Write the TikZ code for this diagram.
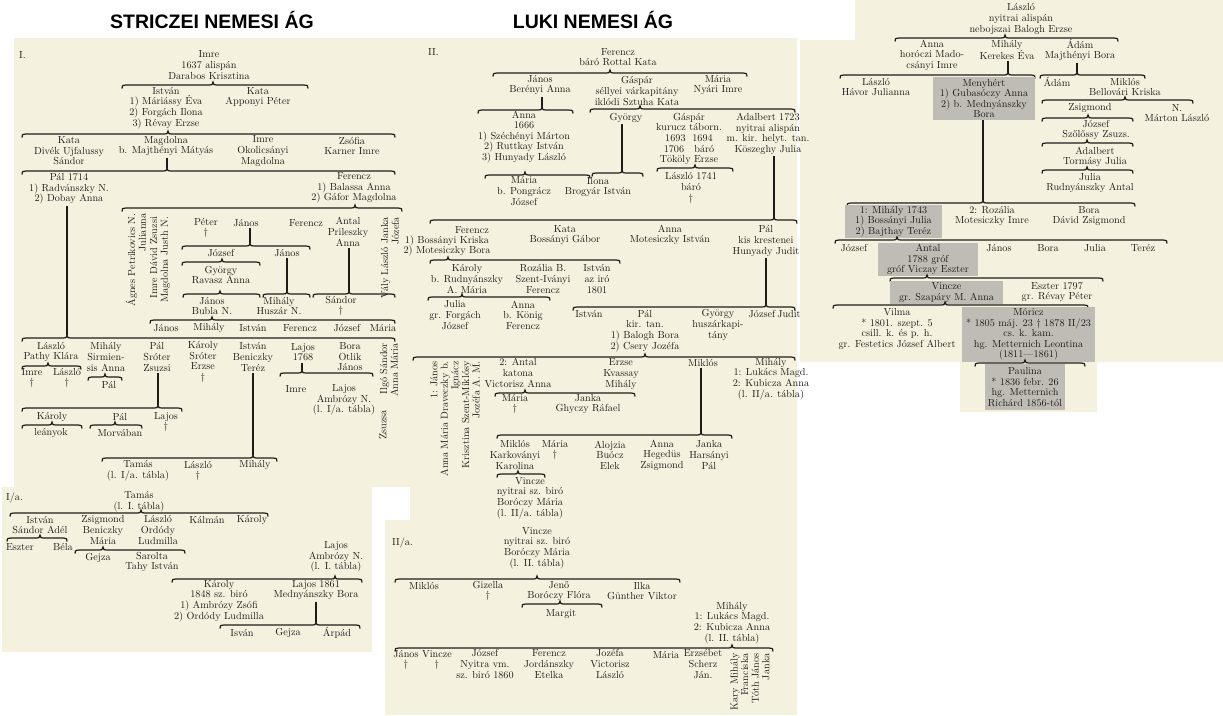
\documentclass[tikz,border=0pt]{standalone}
\usepackage{fontspec}
\newfontfamily\cimfont{Liberation Sans}
\usetikzlibrary{positioning}

\definecolor{papir}{RGB}{244,241,222}
\definecolor{szurke}{RGB}{190,188,180}
\definecolor{tinta}{RGB}{30,28,26}

\newcommand{\nevfont}{\fontsize{10.2}{10.6}\selectfont}
% x1, cusp x, x2, y, name of the cusp
\newcommand{\agvonal}[5]{%
  \draw[vonal] ({#1},{#4+3.5}) .. controls ({#1},{#4+0.5}) .. ({#1+4},{#4}) -- ({#2-3.5},{#4})
    .. controls ({#2-0.8},{#4}) .. ({#2},{#4-3}) .. controls ({#2+0.8},{#4}) .. ({#2+3.5},{#4})
    -- ({#3-4},{#4}) .. controls ({#3},{#4+0.5}) .. ({#3},{#4+3.5});
  \coordinate (#5) at ({#2},{#4-3});}

\tikzset{
  nev/.style={inner sep=0pt, align=center, font=\nevfont, text=tinta},
  fuggo/.style={nev, rotate=90, align=right},
  tabla/.style={nev, anchor=west},
  kiemelt/.style={nev, fill=szurke},
  vonal/.style={draw=tinta, line width=1.2pt},
  tonk/.style={vonal, shorten <=1.5pt},
  cim/.style={inner sep=0pt, font=\cimfont\bfseries\fontsize{19.5}{19.5}\selectfont},
}

\begin{document}
\begin{tikzpicture}[x=1pt,y=-1pt]
	\useasboundingbox (0,0) rectangle (1223,715);
	% paper
	\fill [papir] (14,38) rectangle (410,487);
	\fill [papir] (2,487) rectangle (372,652);
	\fill [papir] (410,38) rectangle (797,520);
	\fill [papir] (385,520) rectangle (797,715);
	\fill [papir] (800,40) -- (855,40) -- (855,0) -- (1223,0) -- (1223,362) -- (1097,362)
		-- (1097,412) -- (960,412) -- (960,362) -- (800,362) -- cycle;

	\node [cim] (cim1) at (212,20) {STRICZEI NEMESI ÁG};
	\node [cim] (cim2) at (593,20) {LUKI NEMESI ÁG};

	% ---- I. tabla
	\node [tabla] (t1) at (19,55) {I.};
	\node [nev] (imre1637) at (209,65) {Imre\\1637 alispán\\Darabos Krisztina};
	\agvonal{122}{213}{308}{85}{c1}
	\node [nev] (istvan1) at (166,108) {István\\1) Máriássy Éva\\2) Forgách Ilona\\3) Révay Erzse};
	\node [nev] (kata1) at (258,97) {Kata\\Apponyi Péter};
	\agvonal{22}{168}{395}{134}{c2}
	\node [nev] (kata2) at (69,151) {Kata\\Divék Ujfalussy\\Sándor};
	\node [nev] (magdolna1) at (166,146) {Magdolna\\b. Majthényi Mátyás};
	\node [nev] (imre2) at (263,151) {Imre\\Okolicsányi\\Magdolna};
	\node [nev] (zsofia1) at (352,146) {Zsófia\\Karner Imre};
	\agvonal{22}{167}{395}{171}{c3}
	\draw [tonk] (magdolna1.south -| c3) -- (c3);
	\node [nev] (pal1) at (69,189) {Pál 1714\\1) Radvánszky N.\\2) Dobay Anna};
	\node [nev] (ferencz1) at (354,188) {Ferencz\\1) Balassa Anna\\2) Gáfor Magdolna};
	\agvonal{122}{355}{402}{208}{c4}
	\node [fuggo] (agnes1) at (136,260) {Ágnes Petrikovics N.\\Julianna};
	\node [fuggo] (imre3) at (160,260) {Imre Dávid Zsuzsi\\Magdolna Justh N.};
	\node [nev] (peter1) at (206,228) {Péter\\†};
	\node [nev] (janos1) at (246,223) {János};
	\node [nev] (ferencz2) at (306,223) {Ferencz};
	\node [nev] (antal1) at (348,232) {Antal\\Prileszky\\Anna};
	\node [fuggo] (valy1) at (390,258) {Vály László Janka\\Józefa};
	\agvonal{182}{250}{310}{246}{c5}
	\draw [tonk] (janos1.south -| c5) -- (c5);
	\node [nev] (jozsef1) at (221,253) {József};
	\node [nev] (janos2) at (287,253) {János};
	\agvonal{182}{222}{260}{262}{c6}
	\node [nev] (gyorgy1) at (221,275) {György\\Ravasz Anna};
	\agvonal{183}{220}{260}{294}{c7}
	\agvonal{263}{287}{310}{294}{c8}
	\agvonal{313}{349}{395}{294}{c9}
	\draw [tonk] (janos2.south -| c8) -- (c8);
	\draw [tonk] (antal1.south -| c9) -- (c9);
	\node [nev] (janos3) at (212,306) {János\\Bubla N.};
	\node [nev] (mihaly1) at (279,306) {Mihály\\Huszár N.};
	\node [nev] (sandor1) at (341,306) {Sándor\\†};
	\agvonal{150}{212}{395}{320}{c10}
	\node [nev] (janos4) at (166,328) {János};
	\node [nev] (mihaly2) at (209,328) {Mihály};
	\node [nev] (istvan2) at (253,328) {István};
	\node [nev] (ferencz3) at (300,328) {Ferencz};
	\node [nev] (jozsef2) at (347,328) {József};
	\node [nev] (maria1) at (383,328) {Mária};
	\agvonal{22}{67}{395}{338}{c11}
	\draw [tonk] (pal1.south -| c11) -- (c11);
	\node [nev] (laszlo1) at (51,352) {László\\Pathy Klára};
	\agvonal{22}{48}{81}{366}{c12}
	\node [nev] (imre4) at (32,378) {Imre\\†};
	\node [nev] (laszlo2) at (67,378) {László\\†};
	\node [nev] (mihaly3) at (106,357) {Mihály\\Sirmien-\\sis Anna};
	\agvonal{88}{105}{122}{377}{c13}
	\node [nev] (pal2) at (109,385) {Pál};
	\node [nev] (pal3) at (157,357) {Pál\\Sróter\\Zsuzsi};
	\agvonal{22}{158}{182}{408}{c14}
	\draw [tonk] (pal3.south -| c14) -- (c14);
	\node [nev] (karoly1) at (52,417) {Károly};
	\agvonal{22}{52}{82}{425}{c15}
	\node [nev] (leanyok) at (51,433) {leányok};
	\node [nev] (pal4) at (120,417) {Pál};
	\agvonal{90}{115}{142}{425}{c16}
	\node [nev] (morvaban) at (120,433) {Morvában};
	\node [nev] (lajos1) at (166,422) {Lajos\\†};
	\node [nev] (karoly2) at (203,362) {Károly\\Sróter\\Erzse\\†};
	\node [nev] (istvan3) at (253,357) {István\\Beniczky\\Teréz};
	\agvonal{102}{253}{277}{458}{c17}
	\draw [tonk] (istvan3.south -| c17) -- (c17);
	\node [nev] (tamas1) at (138,471) {Tamás\\(l. I/a. tábla)};
	\node [nev] (laszlo3) at (198,471) {László\\†};
	\node [nev] (mihaly4) at (255,465) {Mihály};
	\node [nev] (lajos2) at (303,352) {Lajos\\1768};
	\agvonal{280}{302}{373}{373}{c18}
	\draw [tonk] (lajos2.south -| c18) -- (c18);
	\node [nev] (imre5) at (296,389) {Imre};
	\node [nev] (lajos3) at (344,400) {Lajos\\Ambrózy N.\\(l. I/a. tábla)};
	\node [nev] (bora1) at (350,357) {Bora\\Otlik\\János};
	\node [fuggo] (ilgo1) at (389,370) {Ilgó Sándor\\Anna Mária};
	\node [fuggo] (zsuzsa1) at (383,425) {Zsuzsa};

	% ---- I/a. tabla
	\node [tabla] (t1a) at (6,498) {I/a.};
	\node [nev] (tamas2) at (139,502) {Tamás\\(l. I. tábla)};
	\agvonal{10}{141}{268}{513}{d1}
	\node [nev] (istvan4) at (40,525) {István\\Sándor Adél};
	\agvonal{7}{40}{67}{538}{d2}
	\node [nev] (eszter1) at (20,547) {Eszter};
	\node [nev] (bela1) at (63,547) {Béla};
	\node [nev] (zsigmond1) at (103,530) {Zsigmond\\Beniczky\\Mária};
	\agvonal{75}{103}{185}{550}{d3}
	\node [nev] (laszlo4) at (158,530) {László\\Ordódy\\Ludmilla};
	\node [nev] (kalman1) at (207,520) {Kálmán};
	\node [nev] (karoly3) at (252,520) {Károly};
	\node [nev] (gejza1) at (98,558) {Gejza};
	\node [nev] (sarolta1) at (152,562) {Sarolta\\Tahy István};
	\node [nev] (lajos4) at (336,557) {Lajos\\Ambrózy N.\\(l. I. tábla)};
	\agvonal{172}{335}{362}{579}{d4}
	\node [nev] (karoly4) at (219,601) {Károly\\1848 sz. biró\\1) Ambrózy Zsófi\\2) Ordódy Ludmilla};
	\node [nev] (lajos5) at (316,590) {Lajos 1861\\Mednyánszky Bora};
	\agvonal{220}{316}{360}{625}{d5}
	\draw [tonk] (lajos5.south -| d5) -- (d5);
	\node [nev] (isvan1) at (242,633) {Isván};
	\node [nev] (gejza2) at (288,633) {Gejza};
	\node [nev] (arpad1) at (337,633) {Árpád};

	% ---- II. tabla
	\node [tabla] (t2) at (428,52) {II.};
	\node [nev] (ferencz4) at (618,57) {Ferencz\\báró Rottal Kata};
	\agvonal{493}{610}{747}{73}{e1}
	\node [nev] (janos5) at (540,85) {János\\Berényi Anna};
	\agvonal{478}{542}{573}{110}{e2}
	\draw [tonk] (janos5.south -| e2) -- (e2);
	\node [nev] (gaspar1) at (637,91) {Gáspár\\séllyei várkapitány\\iklódi Sztuha Kata};
	\node [nev] (maria2) at (718,85) {Mária\\Nyári Imre};
	\agvonal{590}{640}{795}{109}{e3}
	\node [nev] (anna1) at (524,137) {Anna\\1666\\1) Széchényi Márton\\2) Ruttkay István\\3) Hunyady László};
	\node [nev] (gyorgy2) at (626,118) {György};
	\node [nev] (gaspar2) at (689,139) {Gáspár\\kurucz táborn.\\1693\ \ 1694\\1706\ \ \ báró\\Tököly Erzse};
	\node [nev] (adalbert1) at (768,134) {Adalbert 1723\\nyitrai alispán\\m. kir. helyt. tan.\\Köszeghy Julia};
	\agvonal{485}{525}{590}{175}{e4}
	\agvonal{592}{622}{643}{173}{e5}
	\draw [tonk] (gyorgy2.south -| e5) -- (e5);
	\node [nev] (maria3) at (524,191) {Mária\\b. Pongrácz\\József};
	\node [nev] (ilona1) at (598,187) {Ilona\\Brogyár István};
	\agvonal{657}{695}{733}{168}{e6}
	\node [nev] (laszlo5) at (691,188) {László 1741\\báró\\†};
	\agvonal{430}{774}{797}{220}{e7}
	\draw [tonk] (adalbert1.south -| e7) -- (e7);
	\node [nev] (ferencz5) at (472,230) {Ferencz};
	\node [nev] (ferencz5n) at (447,246) {1) Bossányi Kriska\\2) Motesiczky Bora};
	\node [nev] (kata3) at (565,235) {Kata\\Bossányi Gábor};
	\node [nev] (anna2) at (670,235) {Anna\\Motesiczky István};
	\node [nev] (pal5) at (766,241) {Pál\\kis krestenei\\Hunyady Judit};
	\agvonal{430}{448}{620}{260}{e8}
	\node [nev] (karoly5) at (467,279) {Károly\\b. Rudnyánszky\\A. Mária};
	\node [nev] (rozalia1) at (543,279) {Rozália B.\\Szent-Iványi\\Ferencz};
	\node [nev] (istvan5) at (597,279) {István\\az iró\\1801};
	\agvonal{428}{462}{550}{297}{e9}
	\node [nev] (julia1) at (455,315) {Julia\\gr. Forgách\\József};
	\node [nev] (anna3) at (523,315) {Anna\\b. König\\Ferencz};
	\agvonal{573}{766}{795}{307}{e10}
	\draw [tonk] (pal5.south -| e10) -- (e10);
	\node [nev] (istvan6) at (589,314) {István};
	\node [nev] (pal6) at (645,331) {Pál\\kir. tan.\\1) Balogh Bora\\2) Csery Jozéfa};
	\node [nev] (gyorgy3) at (718,325) {György\\huszárkapi-\\tány};
	\node [nev] (jozsef3) at (762,314) {József};
	\node [nev] (judit1) at (789,314) {Judit};
	\agvonal{413}{645}{795}{357}{e11}
	\node [fuggo] (janos6) at (455,419) {1: János\\Anna Mária Draveczky b.\\Ignácz\\Krisztina Szent-Miklósy\\Jozéfa A. M.};
	\node [nev] (antal2) at (518,373) {2: Antal\\katona\\Victorisz Anna};
	\node [nev] (erzse1) at (621,374) {Erzse\\Kvassay\\Mihály};
	\node [nev] (miklos1) at (703,363) {Miklós};
	\node [nev] (mihaly5) at (771,379) {Mihály\\1: Lukács Magd.\\2: Kubicza Anna\\(l. II/a. tábla)};
	\agvonal{495}{525}{635}{393}{e12}
	\node [nev] (maria4) at (515,404) {Mária\\†};
	\node [nev] (janka1) at (588,404) {Janka\\Ghyczy Ráfael};
	\agvonal{497}{701}{732}{435}{e13}
	\draw [tonk] (miklos1.south -| e13) -- (e13);
	\node [nev] (miklos2) at (515,455) {Miklós\\Karkoványi\\Karolina};
	\node [nev] (maria5) at (555,450) {Mária\\†};
	\node [nev] (alojzia1) at (610,455) {Alojzia\\Buócz\\Elek};
	\node [nev] (anna4) at (662,455) {Anna\\Hegedüs\\Zsigmond};
	\node [nev] (janka2) at (709,455) {Janka\\Harsányi\\Pál};
	\agvonal{497}{518}{545}{474}{e14}
	\node [nev] (vincze1) at (530,498) {Vincze\\nyitrai sz. biró\\Boróczy Mária\\(l. II/a. tábla)};

	% ---- II/a. tabla
	\node [tabla] (t2a) at (392,543) {II/a.};
	\node [nev] (vincze2) at (537,548) {Vincze\\nyitrai sz. biró\\Boróczy Mária\\(l. II. tábla)};
	\agvonal{395}{537}{680}{579}{f1}
	\node [nev] (miklos3) at (424,586) {Miklós};
	\node [nev] (gizella1) at (488,591) {Gizella\\†};
	\node [nev] (jeno1) at (559,591) {Jenő\\Boróczy Flóra};
	\agvonal{522}{560}{602}{604}{f2}
	\node [nev] (margit1) at (561,614) {Margit};
	\node [nev] (ilka1) at (642,591) {Ilka\\Günther Viktor};
	\node [nev] (mihaly6) at (732,623) {Mihály\\1: Lukács Magd.\\2: Kubicza Anna\\(l. II. tábla)};
	\agvonal{395}{732}{773}{648}{f3}
	\node [nev] (janos7) at (406,660) {János\\†};
	\node [nev] (vincze3) at (437,660) {Vincze\\†};
	\node [nev] (jozsef4) at (485,664) {József\\Nyitra vm.\\sz. biró 1860};
	\node [nev] (ferencz6) at (549,664) {Ferencz\\Jordánszky\\Etelka};
	\node [nev] (jozefa1) at (610,664) {Jozéfa\\Victorisz\\László};
	\node [nev] (maria6) at (666,655) {Mária};
	\node [nev] (erzsebet1) at (703,664) {Erzsébet\\Scherz\\Ján.};
	\node [fuggo] (kary1) at (750,682) {Kary Mihály\\Franciska\\Tóth János\\Janka};

	% ---- jobb oldali tabla
	\node [nev] (laszlo6) at (1021,19) {László\\nyitrai alispán\\nebojszai Balogh Erzse};
	\agvonal{895}{1005}{1118}{38}{g1}
	\node [nev] (anna5) at (932,55) {Anna\\horóczi Mado-\\csányi Imre};
	\node [nev] (mihaly7) at (1007,50) {Mihály\\Kerekes Éva};
	\node [nev] (adam1) at (1080,50) {Ádám\\Majthényi Bora};
	\agvonal{840}{1008}{1035}{75}{g2}
	\agvonal{1040}{1077}{1145}{75}{g3}
	\draw [tonk] (mihaly7.south -| g2) -- (g2);
	\draw [tonk] (adam1.south -| g3) -- (g3);
	\node [nev] (laszlo7) at (876,87) {László\\Hávor Julianna};
	\node [kiemelt, minimum width=102pt, minimum height=43pt] (menyhert1) at (984,98.5)
		{Menyhért\\1) Gubasóczy Anna\\2) b. Mednyánszky\\Bora};
	\node [nev] (adam2) at (1057,82) {Ádám};
	\node [nev] (miklos4) at (1125,87) {Miklós\\Bellovári Kriska};
	\agvonal{1042}{1125}{1193}{100}{g4}
	\node [nev] (zsigmond2) at (1090,108) {Zsigmond};
	\node [nev] (marton1) at (1177,113) {N.\\Márton László};
	\agvonal{1042}{1088}{1133}{118}{g5}
	\node [nev] (jozsef5) at (1096,130) {József\\Szőlőssy Zsuzs.};
	\agvonal{1042}{1087}{1133}{143}{g6}
	\node [nev] (adalbert2) at (1095,157) {Adalbert\\Tormásy Julia};
	\agvonal{1042}{1087}{1133}{170}{g7}
	\node [nev] (julia2) at (1090,183) {Julia\\Rudnyánszky Antal};
	\agvonal{847}{983}{1135}{203}{g8}
	\draw [vonal] (menyhert1.south -| g8) -- (g8);
	\node [kiemelt, minimum width=97pt, minimum height=33pt] (mihaly8) at (893.5,221.5)
		{1: Mihály 1743\\1) Bossányi Julia\\2) Bajthay Teréz};
	\node [nev] (rozalia2) at (992,216) {2: Rozália\\Motesiczky Imre};
	\node [nev] (bora2) at (1089,216) {Bora\\Dávid Zsigmond};
	\agvonal{835}{897}{1167}{240}{g9}
	\node [nev] (jozsef6) at (854,248) {József};
	\node [kiemelt, minimum width=100pt, minimum height=33pt] (antal3) at (928,259.5)
		{Antal\\1788 gróf\\gróf Viczay Eszter};
	\node [nev] (janos8) at (999,248) {János};
	\node [nev] (bora3) at (1048,248) {Bora};
	\node [nev] (julia3) at (1095,248) {Julia};
	\node [nev] (terez1) at (1143,248) {Teréz};
	\agvonal{890}{927}{1103}{278}{g10}
	\node [kiemelt, minimum width=113pt, minimum height=23pt] (vincze4) at (946.5,292.5)
		{Vincze\\gr. Szapáry M. Anna};
	\node [nev] (eszter2) at (1057,292) {Eszter 1797\\gr. Révay Péter};
	\agvonal{833}{945}{1088}{305}{g11}
	\node [nev] (vilma1) at (897,329) {Vilma\\* 1801. szept. 5\\csill. k. és p. h.\\gr. Festetics József Albert};
	\node [kiemelt, minimum width=133pt, minimum height=55pt] (moricz1) at (1028.5,334.5)
		{Móricz\\* 1805 máj. 23 † 1878 II/23\\cs. k. kam.\\hg. Metternich Leontina\\(1811—1861)};
	\agvonal{975}{1025}{1085}{363}{g12}
	\node [kiemelt, minimum width=80pt, minimum height=46pt] (paulina1) at (1025,387)
		{Paulina\\* 1836 febr. 26\\hg. Metternich\\Richárd 1856-tól};
\end{tikzpicture}
\end{document}
